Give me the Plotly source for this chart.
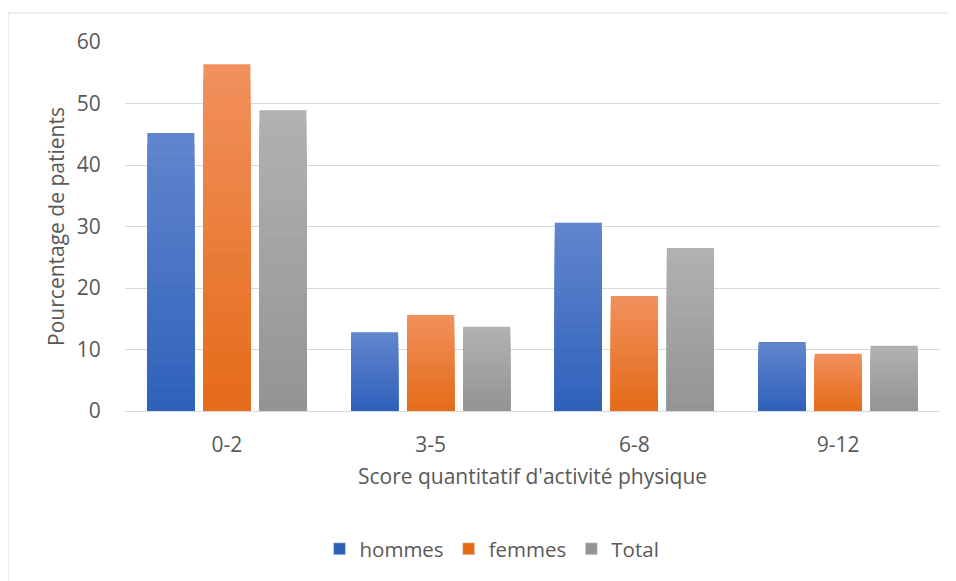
import plotly.graph_objects as go

categories = ["0-2", "3-5", "6-8", "9-12"]
hommes = [45.2, 12.8, 30.6, 11.2]
femmes = [56.4, 15.6, 18.7, 9.3]
total = [48.9, 13.7, 26.5, 10.6]

series = [
    ("hommes", hommes, (97, 133, 205), (46, 96, 186)),
    ("femmes", femmes, (241, 144, 92), (228, 106, 23)),
    ("Total", total, (177, 177, 177), (147, 147, 147)),
]

FONT = "'Open Sans', sans-serif"
TXT = "#595959"
FS_TICK = 21
FS_TITLE = 21
FS_LEG = 20.5
N = 24

# page body has an 8px margin; figure sized to fill the window
W, H = 948, 573
L, T, R, B = 117, 34, 16, 170
PW = W - L - R
PH = H - T - B

fig = go.Figure()
for name, vals, top, bot in series:
    for k in range(N):
        t = k / N
        frac = 1 - t
        c = tuple(round(top[i] + (bot[i] - top[i]) * t) for i in range(3))
        fig.add_trace(go.Bar(
            x=categories,
            y=[v * frac for v in vals],
            name=name,
            offsetgroup=name,
            legendgroup=name,
            showlegend=False,
            marker=dict(color="rgb(%d,%d,%d)" % c, line=dict(width=0)),
            hoverinfo="skip",
        ))
    fig.add_trace(go.Bar(
        x=categories, y=[None] * len(categories), name=name,
        offsetgroup=name, legendgroup=name, showlegend=True,
        marker=dict(color="rgb(%d,%d,%d)" % bot),
    ))

fig.update_layout(
    width=W, height=H,
    margin=dict(l=L, r=R, t=T, b=B, autoexpand=False),
    paper_bgcolor="white", plot_bgcolor="white",
    barmode="group", bargap=0.175, bargroupgap=0.16,
    font=dict(family=FONT, size=FS_TICK, color=TXT),
    showlegend=True,
    legend=dict(orientation="h", x=(492 - L - 8) / PW, xanchor="center",
                y=(403 - 541) / PH, yanchor="middle",
                font=dict(family=FONT, size=FS_LEG, color=TXT),
                traceorder="normal"),
    xaxis=dict(showgrid=False, showline=True, linecolor="#D9D9D9", linewidth=1,
               ticks="outside", ticklen=15, tickcolor="rgba(0,0,0,0)",
               tickfont=dict(size=FS_TICK, color=TXT),
               title=dict(text="Score quantitatif d'activité physique", standoff=12,
                          font=dict(size=FS_TITLE, color=TXT))),
    yaxis=dict(range=[0, 60], dtick=10, showgrid=True, gridcolor="#D9D9D9", gridwidth=1,
               zeroline=False, showline=False,
               ticks="outside", ticklen=19, tickcolor="rgba(0,0,0,0)",
               tickfont=dict(size=FS_TICK, color=TXT),
               title=dict(text="Pourcentage de patients", standoff=6,
                          font=dict(size=FS_TITLE, color=TXT))),
)

fig.add_shape(type="rect", xref="paper", yref="paper",
              x0=(0 - L) / PW, x1=1.2, y0=-0.8, y1=(PH + T - 5) / PH,
              line=dict(color="#D9D9D9", width=1), fillcolor="rgba(0,0,0,0)", layer="below")

fig.write_html("out.html")
